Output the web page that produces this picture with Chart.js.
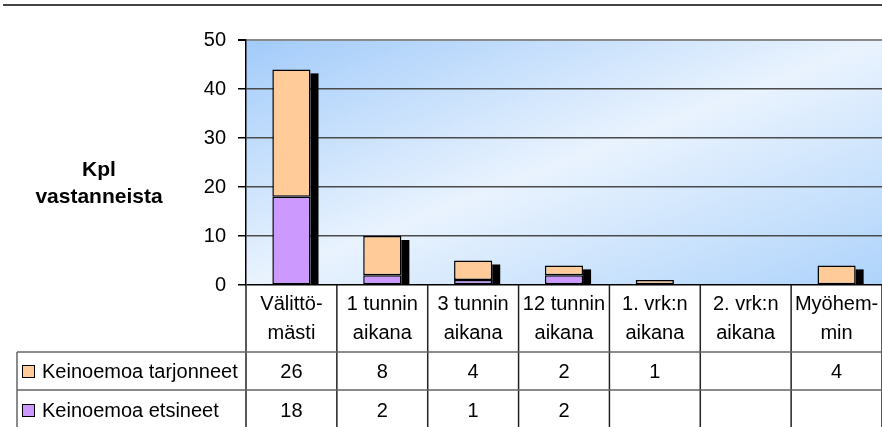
<!DOCTYPE html>
<html>
<head>
<meta charset="utf-8">
<script src="https://cdn.jsdelivr.net/npm/chart.js@4.4.1/dist/chart.umd.min.js"></script>
<style>
  html, body { margin: 0; padding: 0; background: #fff; }
  #wrap { width: 882px; height: 427px; }
</style>
</head>
<body>
<div id="wrap"><canvas id="kpl" width="882" height="427"></canvas></div>
<script>
// categories (header rows of the data table)
var categories = [
  ['Välittö-', 'mästi'],
  ['1 tunnin', 'aikana'],
  ['3 tunnin', 'aikana'],
  ['12 tunnin', 'aikana'],
  ['1. vrk:n', 'aikana'],
  ['2. vrk:n', 'aikana'],
  ['Myöhem-', 'min']
];
var etsineet = [18, 2, 1, 2, null, null, null];
var tarjonneet = [26, 8, 4, 2, 1, null, 4];
var yTicks = [0, 10, 20, 30, 40, 50];
var axisTitle = ['Kpl', 'vastanneista'];

var FONT = '"Liberation Sans", Arial, sans-serif';

var decor = {
  id: 'decor',
  beforeDraw: function(chart) {
    var ctx = chart.ctx, a = chart.chartArea;
    ctx.save();
    // top rule
    ctx.fillStyle = '#444';
    ctx.fillRect(3, 4, 879, 2);
    // plot background gradient
    ctx.translate(a.left, a.top);
    ctx.scale(a.right - a.left, a.bottom - a.top);
    var g = ctx.createLinearGradient(0, 0, 1, 1);
    g.addColorStop(0, '#a2cbfa');
    g.addColorStop(0.5, '#e9f3fe');
    g.addColorStop(1, '#aed3fb');
    ctx.fillStyle = g;
    ctx.fillRect(0, 0, 1, 1);
    ctx.restore();
  },
  beforeDatasetsDraw: function(chart) {
    // black side shadow of each stack
    var ctx = chart.ctx;
    var base = chart.scales.y.getPixelForValue(0);
    ctx.save();
    ctx.fillStyle = '#000';
    for (var i = 0; i < categories.length; i++) {
      var top = null, el = null;
      chart.data.datasets.forEach(function(ds, d) {
        if (ds.data[i] == null) return;
        var e = chart.getDatasetMeta(d).data[i];
        if (top === null || e.y < top) { top = e.y; el = e; }
      });
      if (!el) continue;
      var x = el.x + el.width / 2;
      var t = Math.min(top + 4, base);
      ctx.fillRect(x, t, 8, base - t);
    }
    ctx.restore();
  },
  afterDraw: function(chart) {
    var ctx = chart.ctx, x = chart.scales.x, a = chart.chartArea;
    var n = categories.length;
    var w = (a.right - a.left) / n;
    var rowTop = 352, rowMid = 390, bottom = 427;
    ctx.save();
    // axis title
    ctx.fillStyle = '#000';
    ctx.font = 'bold 21px ' + FONT;
    ctx.textAlign = 'center';
    ctx.textBaseline = 'middle';
    ctx.fillText(axisTitle[0], 99, 170);
    ctx.fillText(axisTitle[1], 99, 197);

    // table lines
    ctx.lineWidth = 1.5;
    ctx.strokeStyle = '#222';
    for (var i = 0; i <= n; i++) {
      var bx = a.left + i * w;
      ctx.beginPath();
      ctx.moveTo(bx, a.bottom);
      ctx.lineTo(bx, bottom);
      ctx.stroke();
    }
    ctx.strokeStyle = '#666';
    ctx.beginPath();
    ctx.moveTo(17, rowTop); ctx.lineTo(a.right, rowTop);
    ctx.moveTo(17, rowMid); ctx.lineTo(a.right, rowMid);
    ctx.moveTo(17, rowTop); ctx.lineTo(17, bottom);
    ctx.stroke();

    // header labels + values
    ctx.font = '20px ' + FONT;
    ctx.fillStyle = '#000';
    for (var j = 0; j < n; j++) {
      var cx = x.getPixelForValue(j);
      ctx.fillText(categories[j][0], cx, 304);
      ctx.fillText(categories[j][1], cx, 333);
      if (tarjonneet[j] != null) ctx.fillText(String(tarjonneet[j]), cx, 372);
      if (etsineet[j] != null) ctx.fillText(String(etsineet[j]), cx, 411);
    }

    // legend keys
    var rows = [
      { label: chart.data.datasets[1].label, color: chart.data.datasets[1].backgroundColor, y: 372 },
      { label: chart.data.datasets[0].label, color: chart.data.datasets[0].backgroundColor, y: 411 }
    ];
    ctx.textAlign = 'left';
    rows.forEach(function(r) {
      ctx.fillStyle = r.color;
      ctx.fillRect(22, r.y - 7, 13, 13);
      ctx.strokeStyle = '#000';
      ctx.lineWidth = 1;
      ctx.strokeRect(22.5, r.y - 6.5, 12, 12);
      ctx.fillStyle = '#000';
      ctx.fillText(r.label, 42, r.y);
    });
    ctx.restore();
  }
};

new Chart(document.getElementById('kpl'), {
  type: 'bar',
  data: {
    labels: categories,
    datasets: [
      {
        label: 'Keinoemoa etsineet',
        data: etsineet,
        backgroundColor: '#cc99ff',
        borderColor: '#000',
        borderWidth: 1.5,
        borderSkipped: false
      },
      {
        label: 'Keinoemoa tarjonneet',
        data: tarjonneet,
        backgroundColor: '#ffcc99',
        borderColor: '#000',
        borderWidth: 1.5,
        borderSkipped: false
      }
    ]
  },
  options: {
    responsive: false,
    animation: false,
    events: [],
    layout: { padding: { top: 40, bottom: 142, left: 0, right: 0 } },
    datasets: { bar: { categoryPercentage: 1, barPercentage: 0.42 } },
    plugins: { legend: { display: false }, tooltip: { enabled: false }, title: { display: false } },
    scales: {
      x: { display: false, stacked: true },
      y: {
        stacked: true,
        min: 0,
        max: 50,
        afterFit: function(s) { s.width = 246; },
        afterBuildTicks: function(s) { s.ticks = yTicks.map(function(v) { return { value: v }; }); },
        border: { color: '#000', width: 1.5 },
        grid: {
          tickLength: 8,
          tickColor: '#000',
          color: function(c) { return c.tick.value === 0 ? '#000' : (c.tick.value === 50 ? '#8a8a8a' : '#4a4a4a'); },
          lineWidth: function(c) { return c.tick.value === 50 ? 2 : 1.5; }
        },
        ticks: {
          padding: 12,
          color: '#000',
          font: { family: FONT, size: 20 }
        }
      }
    }
  },
  plugins: [decor]
});
</script>
</body>
</html>
